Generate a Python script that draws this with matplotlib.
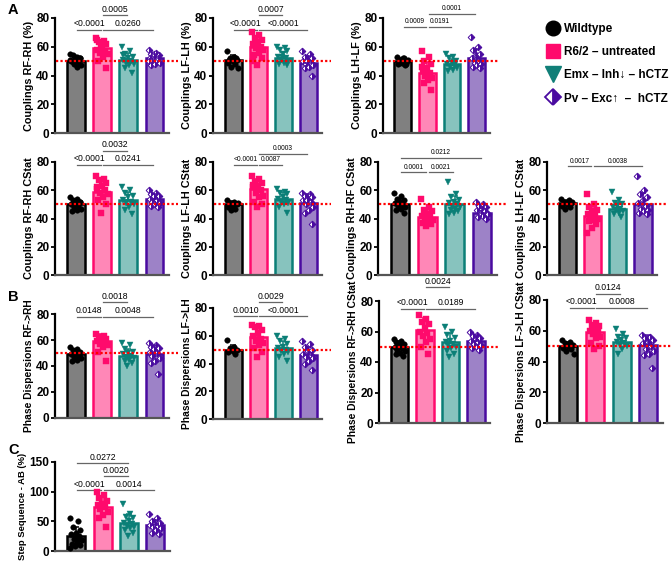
import numpy as np
import matplotlib
matplotlib.use('Agg')
import matplotlib.pyplot as plt
from matplotlib.lines import Line2D

W, H = 672, 581
plt.rcParams['font.family'] = ['Liberation Sans', 'DejaVu Sans']
plt.rcParams['font.weight'] = 'bold'

groups = ['Wildtype', 'R6/2 \u2013 untreated', 'Emx \u2013 Inh\u2193 \u2013 hCTZ', 'Pv \u2013 Exc\u2191  \u2013  hCTZ']

# ---------------- data ----------------
# Panel A, row 1
rfrh_means = [50, 59, 51, 52]
rfrh_pts = [[55, 53, 54, 52, 51, 50, 49, 48, 47, 46, 50, 52, 53, 51],
            [66, 64, 63, 62, 60, 58, 57, 56, 55, 53, 50, 45, 61, 65],
            [60, 57, 55, 53, 52, 51, 50, 49, 48, 47, 45, 42, 50, 54],
            [58, 56, 55, 54, 53, 52, 51, 50, 49, 48, 47, 52, 55, 50]]
lflh_means = [51, 60, 52, 49]
lflh_pts = [[57, 53, 52, 51, 50, 49, 48, 46, 45, 50, 51, 52],
            [70, 68, 66, 65, 63, 62, 60, 59, 58, 56, 54, 52, 47, 50],
            [60, 59, 58, 57, 55, 53, 52, 51, 50, 49, 48, 47, 53],
            [57, 55, 53, 52, 51, 50, 49, 48, 47, 46, 45, 40, 50]]
lhlf_means = [50, 42, 48, 52]
lhlf_pts = [[53, 52, 51, 50, 49, 48, 47, 50, 51, 52, 49, 48],
            [57, 53, 50, 48, 45, 43, 42, 40, 38, 37, 35, 30, 41, 46],
            [55, 53, 52, 50, 49, 48, 47, 46, 45, 44, 43, 48],
            [67, 60, 58, 55, 54, 52, 50, 49, 48, 47, 46, 45, 53]]
# Panel A, row 2 (CStat)
rfrh_c_means = [50, 59, 53, 54]
rfrh_c_pts = [[55, 54, 53, 52, 51, 50, 49, 48, 47, 46, 45, 52, 50],
              [70, 68, 67, 65, 63, 62, 60, 58, 57, 55, 53, 50, 44, 61],
              [62, 60, 58, 56, 55, 53, 52, 51, 50, 48, 46, 43],
              [60, 58, 57, 56, 55, 54, 53, 52, 51, 50, 49, 48, 56]]
lflh_c_means = [50, 61, 54, 51]
lflh_c_pts = [[53, 52, 51, 50, 49, 48, 47, 46, 51, 50],
              [70, 68, 66, 65, 63, 62, 60, 58, 56, 55, 52, 50, 48, 64],
              [61, 59, 58, 57, 55, 54, 53, 52, 51, 50, 48, 44],
              [58, 57, 56, 55, 54, 53, 52, 50, 48, 46, 44, 36, 53]]
rhrf_c_means = [50, 41, 50, 44]
rhrf_c_pts = [[58, 56, 54, 53, 52, 51, 50, 49, 48, 47, 46, 44, 50],
              [54, 48, 46, 45, 43, 42, 41, 40, 39, 38, 37, 36, 35],
              [66, 57, 55, 53, 52, 51, 50, 49, 48, 47, 46, 45, 44, 43],
              [52, 50, 49, 48, 47, 46, 45, 44, 43, 42, 41, 40, 44]]
lhlf_c_means = [51, 42, 47, 50]
lhlf_c_pts = [[54, 53, 52, 51, 50, 49, 48, 47, 52],
              [57, 50, 48, 46, 45, 43, 42, 41, 40, 39, 38, 36, 33, 30],
              [59, 53, 51, 50, 49, 48, 47, 46, 45, 44, 43, 41],
              [70, 60, 57, 55, 53, 51, 49, 47, 46, 45, 44, 43]]
# Panel B
pd_rfrh_means = [49, 59, 48, 49]
pd_rfrh_pts = [[55, 53, 52, 51, 50, 49, 48, 47, 46, 45, 44, 50],
               [65, 63, 62, 61, 60, 59, 58, 57, 56, 55, 51, 44],
               [58, 56, 53, 51, 50, 49, 48, 47, 46, 45, 44, 42, 40],
               [58, 56, 55, 54, 53, 51, 50, 48, 46, 44, 42, 34]]
pd_lflh_means = [50, 59, 51, 46]
pd_lflh_pts = [[57, 52, 51, 50, 49, 48, 47],
               [68, 67, 66, 64, 62, 60, 58, 56, 55, 53, 51, 48, 45],
               [60, 58, 56, 54, 52, 51, 50, 49, 48, 47, 45, 42],
               [56, 54, 52, 50, 49, 47, 46, 45, 44, 42, 40, 35]]
pd_rfrh_c_means = [50, 61, 53, 54]
pd_rfrh_c_pts = [[55, 54, 53, 52, 51, 50, 49, 48, 47, 46, 45, 44],
                 [71, 68, 66, 65, 62, 60, 59, 57, 55, 53, 50, 45],
                 [63, 60, 58, 56, 54, 53, 52, 51, 50, 49, 47, 45, 43],
                 [60, 58, 57, 56, 55, 54, 53, 52, 51, 50, 49, 48]]
pd_lflh_c_means = [50, 59, 53, 51]
pd_lflh_c_pts = [[54, 53, 52, 51, 50, 49, 48, 47, 45],
                 [67, 65, 64, 63, 62, 60, 59, 58, 56, 55, 52, 50, 48],
                 [61, 58, 56, 55, 54, 53, 52, 51, 50, 48, 45],
                 [57, 56, 55, 54, 53, 52, 50, 48, 47, 45, 44, 36]]
# Panel C
step_means = [25, 75, 47, 43]
step_pts = [[55, 50, 40, 35, 30, 28, 25, 20, 18, 15, 12, 10, 8, 5, 22],
            [100, 95, 90, 85, 80, 78, 75, 70, 65, 60, 55, 40],
            [80, 62, 58, 55, 50, 47, 45, 42, 40, 38, 35, 30, 25],
            [62, 55, 50, 48, 45, 43, 42, 40, 38, 35, 30, 28]]

# ---------------- styling ----------------
bar_face = ['#808080', '#ff87b7', '#87c3be', '#9d82c7']
bar_edge = ['#000000', '#ff0a6c', '#0b7f77', '#4a0ba0']
markers = ['o', 's', 'v', 'D']

fig = plt.figure(figsize=(W / 100, H / 100), dpi=100)


def add_ax(l, r, top, bot):
    return fig.add_axes([l / W, 1 - bot / H, (r - l) / W, (bot - top) / H])


def offsets(n):
    k = np.arange(n)
    return ((k * 0.618034) % 1 - 0.5) * 0.46


def draw_panel(box, ylabel, means, pts, brackets, bfs, ymax=80, ystep=20, ref=50, lfs=7.8):
    ax = add_ax(*box)
    x = np.arange(4)
    ax.bar(x, means, width=0.68, color=bar_face, edgecolor=bar_edge, linewidth=1.8, zorder=2)
    for i in range(4):
        vals = np.array(pts[i], dtype=float)
        sd = vals.std(ddof=1)
        xs = x[i] + offsets(len(vals))
        if i == 3:
            ax.plot(xs, vals, ls='none', marker='D', ms=3.4, mec=bar_edge[i], mew=0.7,
                    mfc=bar_edge[i], fillstyle='right', markerfacecoloralt='white', zorder=3)
        else:
            ax.plot(xs, vals, ls='none', marker=markers[i], ms=4.0, mec=bar_edge[i],
                    mfc=bar_edge[i], mew=0.3, zorder=3)
        ax.errorbar(x[i], means[i], yerr=[[0], [sd]], color=bar_edge[i], capsize=2.5,
                    elinewidth=1.1, capthick=1.1, zorder=4)
    xl = (-0.8, 3.55)
    ax.set_xlim(*xl)
    ax.set_ylim(0, ymax)
    ax.set_yticks(np.arange(0, ymax + 1, ystep))
    ax.set_xticks([])
    for s in ['top', 'right']:
        ax.spines[s].set_visible(False)
    ax.spines['left'].set_linewidth(1.6)
    ax.spines['bottom'].set_linewidth(1.6)
    ax.spines['bottom'].set_color('#555555')
    ax.tick_params(axis='y', labelsize=8.5, width=1.3, length=3, pad=1)
    for t in ax.get_yticklabels():
        t.set_fontweight('bold')
    ax.set_ylabel(ylabel, fontsize=lfs, fontweight='bold', labelpad=2)
    ax.plot([xl[0] + 0.05, xl[1] + 0.35], [ref, ref], color='red', ls=(0, (1, 1)), lw=1.6,
            clip_on=False, zorder=5)
    for (i, j, y, txt) in brackets:
        ax.plot([i + 0.05, j - 0.05], [y, y], color='#666666', lw=0.9, clip_on=False)
        ax.text((i + j) / 2, y + ymax * 0.012, txt, ha='center', va='bottom', fontsize=bfs,
                fontweight='normal', clip_on=False)
    return ax


big, small = 6.2, 4.8
# Row 1
draw_panel((55, 169, 18, 133), 'Couplings RF-RH (%)', rfrh_means, rfrh_pts,
           [(0, 1, 72, '<0.0001'), (1, 3, 72, '0.0260'), (1, 2, 82, '0.0005')], big)
draw_panel((213, 322, 18, 133), 'Couplings LF-LH (%)', lflh_means, lflh_pts,
           [(0, 1, 72, '<0.0001'), (1, 3, 72, '<0.0001'), (1, 2, 82, '0.0007')], big)
draw_panel((383, 490, 18, 133), 'Couplings LH-LF (%)', lhlf_means, lhlf_pts,
           [(0, 1, 74, '0.0009'), (1, 2, 74, '0.0191'), (1, 3, 83, '0.0001')], small)
# Row 2
draw_panel((55, 169, 162, 275), 'Couplings RF-RH CStat', rfrh_c_means, rfrh_c_pts,
           [(0, 1, 78, '<0.0001'), (1, 3, 78, '0.0241'), (1, 2, 88, '0.0032')], big)
draw_panel((213, 322, 162, 275), 'Couplings LF-LH CStat', lflh_c_means, lflh_c_pts,
           [(0, 1, 78, '<0.0001'), (1, 2, 78, '0.0087'), (1, 3, 86, '0.0003')], small)
draw_panel((378, 497, 162, 275), 'Couplings RH-RF CStat', rhrf_c_means, rhrf_c_pts,
           [(0, 1, 73, '0.0001'), (1, 2, 73, '0.0021'), (0, 3, 83, '0.0212')], small)
draw_panel((547, 657, 162, 275), 'Couplings LH-LF CStat', lhlf_c_means, lhlf_c_pts,
           [(0, 1, 77, '0.0017'), (1, 3, 77, '0.0038')], small)
# Row 3 (B)
draw_panel((55, 169, 314, 418), 'Phase Dispersions RF->RH', pd_rfrh_means, pd_rfrh_pts,
           [(0, 1, 78, '0.0148'), (1, 3, 78, '0.0048'), (1, 2, 89, '0.0018')], big, lfs=7.4)
draw_panel((213, 322, 308, 419), 'Phase Dispersions LF->LH', pd_lflh_means, pd_lflh_pts,
           [(0, 1, 74, '0.0010'), (1, 3, 74, '<0.0001'), (1, 2, 84, '0.0029')], big, lfs=7.4)
draw_panel((379, 490, 301, 423), 'Phase Dispersions RF->RH CStat', pd_rfrh_c_means, pd_rfrh_c_pts,
           [(0, 1, 75, '<0.0001'), (1, 3, 75, '0.0189'), (1, 2, 89, '0.0024')], big, lfs=7.4)
draw_panel((547, 663, 300, 423), 'Phase Dispersions LF->LH CStat', pd_lflh_c_means, pd_lflh_c_pts,
           [(0, 1, 75, '<0.0001'), (1, 3, 75, '0.0008'), (1, 2, 84, '0.0124')], big, lfs=7.4)
# Panel C
draw_panel((55, 170, 462, 551), 'Step Sequence - AB (%)', step_means, step_pts,
           [(0, 1, 103, '<0.0001'), (1, 3, 103, '0.0014'), (1, 2, 126, '0.0020'), (0, 2, 148, '0.0272')],
           big, ymax=150, ystep=50, ref=-100, lfs=6.8)

# panel letters
for lab, y in [('A', 10), ('B', 297), ('C', 450)]:
    fig.text(8 / W, 1 - y / H, lab, fontsize=10.5, fontweight='bold', va='center', ha='left')

# legend
handles = [
    Line2D([], [], ls='none', marker='o', ms=10.5, mfc='black', mec='black'),
    Line2D([], [], ls='none', marker='s', ms=10, mfc='#ff0a6c', mec='#ff0a6c'),
    Line2D([], [], ls='none', marker='v', ms=11, mfc='#117f78', mec='#117f78'),
    Line2D([], [], ls='none', marker='D', ms=8.5, mfc='#4a0ba0', mec='#4a0ba0', mew=1.3,
           fillstyle='right', markerfacecoloralt='white'),
]
fig.legend(handles, groups, loc='upper left', bbox_to_anchor=(540 / W, 1 - 17 / H),
           frameon=False, handletextpad=0.35, labelspacing=0.95,
           prop={'weight': 'bold', 'size': 8.5}, handlelength=1.2, borderpad=0)

fig.savefig('out.png', dpi=100)
